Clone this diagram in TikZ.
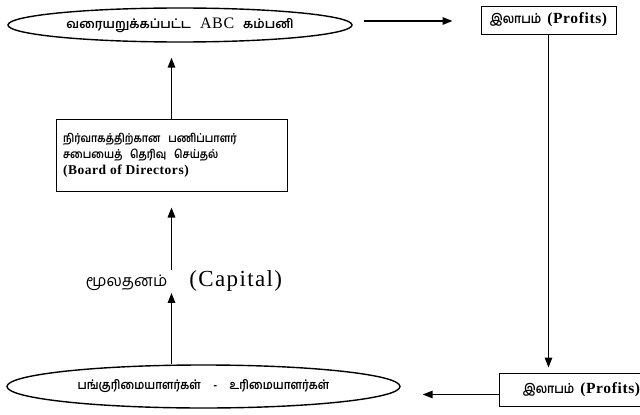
\documentclass[tikz,border=0pt]{standalone}
\usepackage{fontspec}
\setmainfont{Liberation Serif}
\newfontfamily\ta[Script=Tamil]{Hind Madurai}
\newfontfamily\tab[Script=Tamil,FakeStretch=0.88]{Hind Madurai}
\newfontfamily\lat[LetterSpace=4]{Liberation Serif}
\usetikzlibrary{shapes.geometric,arrows.meta}
\begin{document}
\begin{tikzpicture}[x=1pt,y=-1pt,
  oval/.style={draw,ellipse,line width=1.4pt,inner sep=0pt},
  box/.style={draw,rectangle,line width=1pt,inner sep=0pt},
  arr/.style={line width=1.6pt,-{Triangle[length=10pt,width=7.5pt]}},
  tam/.style={font=\tab\bfseries\fontsize{13}{15}\selectfont},
  profit/.style={font=\tab\bfseries\fontsize{13}{15}\selectfont}]
\useasboundingbox (0,0) rectangle (640,415);

\node[oval,minimum width=344pt,minimum height=34pt,font=\ta\bfseries\fontsize{12.5}{15}\selectfont] (co) at (180,25)
  {வரையறுக்கப்பட்ட\hspace{9pt}{\lat\mdseries\fontsize{16}{18}\selectfont ABC}\hspace{9pt}கம்பனி};

\node[box,minimum width=135pt,minimum height=28pt,profit] (p1) at (548.5,20)
  {இலாபம்\hspace{6pt}{\lat\bfseries\fontsize{15.5}{17}\selectfont (Profits)}};

\node[box,minimum width=152pt,minimum height=33pt,profit,anchor=west] (p2) at (499,389.5)
  {\hspace*{12pt}இலாபம்\hspace{6pt}{\lat\bfseries\fontsize{15.5}{17}\selectfont (Profits)}\hfill};

\node[box,minimum width=231pt,minimum height=72pt,font=\tab\bfseries\fontsize{11.6}{16}\selectfont,align=left,text width=217pt] (bd) at (171.5,155)
  {நிர்வாகத்திற்கான\ \ பணிப்பாளர்\\
   சபையைத்\ \ தெரிவு\ \ செய்தல்\\
   {\lat\bfseries\fontsize{13.5}{16}\selectfont (Board of Directors)}\\[5pt]};

\node[font=\ta\fontsize{16}{20}\selectfont] (cap) at (184,281)
  {மூலதனம்\hspace{22pt}{\rmfamily\addfontfeature{LetterSpace=6}\fontsize{23}{26}\selectfont (Capital)}};

\node[oval,minimum width=393pt,minimum height=43pt,font=\tab\bfseries\fontsize{12.5}{14}\selectfont] (sh) at (203.5,386.5)
  {பங்குரிமையாளர்கள்\quad -\quad உரிமையாளர்கள்};

\draw[arr,shorten <=11pt,shorten >=28pt] ([yshift=-1pt]co.east |- p1.west) -- ([yshift=-1pt]p1.west);
\draw[arr,shorten >=5pt] (p1.south) -- (p1.south |- p2.north);
\draw[arr,shorten >=22pt] ([yshift=-5pt]p2.west) -- ([yshift=-5pt]sh.east |- p2.west);
\draw[arr] (bd.south |- sh.north) -- ([yshift=2pt]bd.south |- cap.south);
\draw[arr,shorten >=16pt] ([yshift=-3pt]bd.south |- cap.north) -- (bd.south);
\draw[arr,shorten >=15pt] (bd.north) -- (bd.north |- co.south);
\end{tikzpicture}
\end{document}
